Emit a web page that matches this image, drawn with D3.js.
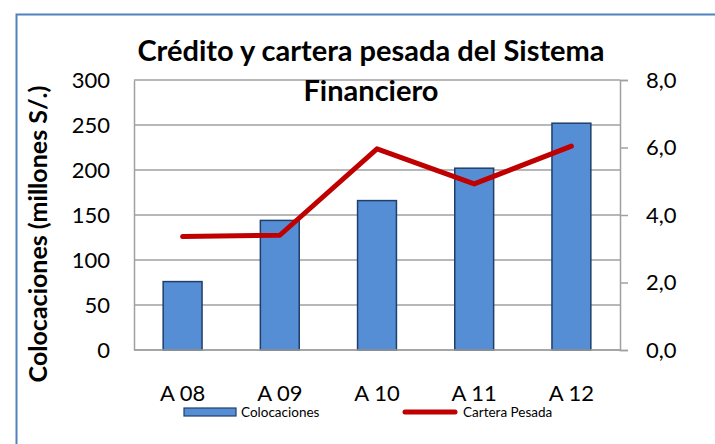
<!DOCTYPE html>
<html lang="es">

<head>
    <meta charset="utf-8">
    <script src="https://d3js.org/d3.v7.min.js"></script>
    <style>
        body { margin: 0; background: #fff; }
        svg { display: block; font-family: Lato, "Open Sans", sans-serif; }
    </style>
</head>

<body>
    <div id="chart"></div>

    <script>
        // data
        const categories = ["A 08", "A 09", "A 10", "A 11", "A 12"];
        const colocaciones = [76, 144, 166, 202, 252];
        const carteraPesada = [3.36, 3.40, 5.96, 4.92, 6.04];
        const leftTicks = [0, 50, 100, 150, 200, 250, 300];
        const rightTicks = [0, 2, 4, 6, 8];

        const width = 715;
        const height = 444;
        const plot = { left: 134, right: 620, top: 80, bottom: 350 };

        const svg = d3.select("#chart").append("svg")
            .attr("width", width)
            .attr("height", height);

        // outer frame of the chart (runs off the page on the right and bottom)
        svg.append("rect")
            .attr("x", 16.5).attr("y", 14.5)
            .attr("width", 760).attr("height", 480)
            .attr("fill", "none")
            .attr("stroke", "#4f81bd")
            .attr("stroke-width", 2);

        // scales
        const x = d3.scaleBand()
            .domain(categories)
            .range([plot.left, plot.right])
            .paddingInner(0.6)
            .paddingOuter(0.3);

        const yLeft = d3.scaleLinear().domain([0, 300]).range([plot.bottom, plot.top]);
        const yRight = d3.scaleLinear().domain([0, 8]).range([plot.bottom, plot.top]);

        const es = d3.formatLocale({ decimal: ",", thousands: ".", grouping: [3], currency: ["S/.", ""] });

        // gridlines
        svg.append("g")
            .selectAll("line")
            .data(leftTicks)
            .join("line")
            .attr("x1", plot.left).attr("x2", plot.right)
            .attr("y1", d => yLeft(d)).attr("y2", d => yLeft(d))
            .attr("stroke", "#a0a0a0")
            .attr("stroke-width", 1.5);

        // left axis
        const leftAxis = svg.append("g")
            .attr("transform", `translate(${plot.left},0)`)
            .call(d3.axisLeft(yLeft).tickValues(leftTicks).tickSize(0).tickPadding(24));
        leftAxis.select(".domain").attr("stroke", "#a0a0a0").attr("stroke-width", 1.5);
        leftAxis.selectAll("text")
            .attr("font-size", 22)
            .attr("fill", "#000")
            .attr("font-family", "Lato, sans-serif");

        // right axis
        const rightAxis = svg.append("g")
            .attr("transform", `translate(${plot.right},0)`)
            .call(d3.axisRight(yRight).tickValues(rightTicks).tickSize(8).tickPadding(18)
                .tickFormat(es.format(".1f")));
        rightAxis.select(".domain").attr("stroke", "#a0a0a0").attr("stroke-width", 1.5);
        rightAxis.selectAll("line").attr("stroke", "#a0a0a0").attr("stroke-width", 1.5);
        rightAxis.selectAll("text")
            .attr("font-size", 22)
            .attr("fill", "#000")
            .attr("font-family", "Lato, sans-serif");

        // bars
        svg.append("g")
            .selectAll("rect")
            .data(colocaciones)
            .join("rect")
            .attr("x", (d, i) => x(categories[i]))
            .attr("y", d => yLeft(d))
            .attr("width", x.bandwidth())
            .attr("height", d => yLeft(0) - yLeft(d))
            .attr("fill", "#558ed5")
            .attr("stroke", "#1f3f6a")
            .attr("stroke-width", 1.5);

        // baseline over the bars
        svg.append("line")
            .attr("x1", plot.left).attr("x2", plot.right)
            .attr("y1", yLeft(0)).attr("y2", yLeft(0))
            .attr("stroke", "#a0a0a0")
            .attr("stroke-width", 1.5);

        // line series
        const line = d3.line()
            .x((d, i) => x(categories[i]) + x.bandwidth() / 2)
            .y(d => yRight(d));

        svg.append("path")
            .datum(carteraPesada)
            .attr("d", line)
            .attr("fill", "none")
            .attr("stroke", "#c00000")
            .attr("stroke-width", 5)
            .attr("stroke-linecap", "round")
            .attr("stroke-linejoin", "round");

        // category labels
        svg.append("g")
            .selectAll("text")
            .data(categories)
            .join("text")
            .attr("x", d => x(d) + x.bandwidth() / 2)
            .attr("y", 401)
            .attr("text-anchor", "middle")
            .attr("font-size", 22)
            .text(d => d);

        // title
        const title = svg.append("text")
            .attr("text-anchor", "middle")
            .attr("font-size", 29)
            .attr("font-weight", "bold");
        title.append("tspan").attr("x", 371).attr("y", 61).text("Crédito y cartera pesada del Sistema");
        title.append("tspan").attr("x", 371).attr("y", 101).text("Financiero");

        // y axis title
        svg.append("text")
            .attr("transform", "translate(47,234) rotate(-90)")
            .attr("text-anchor", "middle")
            .attr("font-size", 25)
            .attr("font-weight", "bold")
            .text("Colocaciones (millones S/.)");

        // legend
        const legend = svg.append("g");
        legend.append("rect")
            .attr("x", 184).attr("y", 408)
            .attr("width", 52).attr("height", 8)
            .attr("fill", "#558ed5")
            .attr("stroke", "#1f3f6a")
            .attr("stroke-width", 1.2);
        legend.append("text")
            .attr("x", 241).attr("y", 417)
            .attr("font-size", 13.5)
            .text("Colocaciones");
        legend.append("line")
            .attr("x1", 405).attr("x2", 455)
            .attr("y1", 412).attr("y2", 412)
            .attr("stroke", "#c00000")
            .attr("stroke-width", 5)
            .attr("stroke-linecap", "round");
        legend.append("text")
            .attr("x", 463).attr("y", 417)
            .attr("font-size", 13.5)
            .text("Cartera Pesada");
    </script>
</body>

</html>
